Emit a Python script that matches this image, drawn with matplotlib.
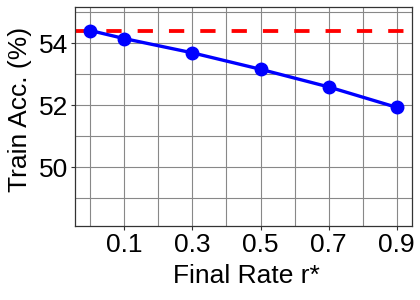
import matplotlib
matplotlib.use("Agg")
import matplotlib.pyplot as plt
import numpy as np

rates = [0.0, 0.1, 0.3, 0.5, 0.7, 0.9]
train_acc = [54.41, 54.15, 53.69, 53.16, 52.59, 51.93]
baseline = 54.41
xtick_vals = [0.1, 0.3, 0.5, 0.7, 0.9]
xtick_labels = ["0.1", "0.3", "0.5", "0.7", "0.9"]
ytick_vals = [50, 52, 54]

plt.rcParams['font.family'] = ['Liberation Sans', 'DejaVu Sans']

fig = plt.figure(figsize=(4.2, 3.0), dpi=100)
ax = fig.add_axes([75/420, 1-226/300, (412-75)/420, (226-7)/300])

# grid
ax.set_xticks(np.round(np.arange(0.0, 0.91, 0.1), 2), minor=True)
ax.set_yticks([49, 50, 51, 52, 53, 54, 55], minor=True)
ax.grid(True, which='both', color='#888888', linewidth=0.8)
ax.set_axisbelow(True)

ax.axhline(baseline, color='#ff0000', linewidth=2.75, dashes=(4, 4.2), zorder=2)
ax.plot(rates, train_acc, color='#0000ff', linewidth=2.4, marker='o',
        markersize=9, zorder=3)

ax.set_xlim(-0.045, 0.945)
ax.set_ylim(48.1, 55.17)
ax.set_xticks(xtick_vals)
ax.set_xticklabels(xtick_labels)
ax.set_yticks(ytick_vals)
ax.tick_params(axis='both', which='major', labelsize=19, length=3, width=0.8,
               color='#333333', pad=2)
ax.tick_params(axis='both', which='minor', length=0)
for s in ax.spines.values():
    s.set_color('#333333')
    s.set_linewidth(0.9)

ax.set_xlabel("Final Rate r*", fontsize=19)
ax.set_ylabel("Train Acc. (%)", fontsize=19)
ax.xaxis.set_label_coords(0.51, -0.175)
ax.yaxis.set_label_coords(-0.128, 0.53)

fig.savefig("out.png", dpi=100)
